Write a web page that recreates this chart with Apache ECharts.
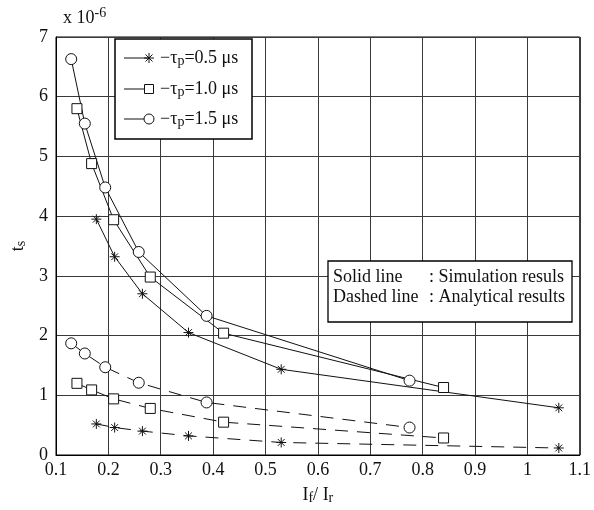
<!DOCTYPE html>
<html><head><meta charset="utf-8">
<script src="https://cdn.jsdelivr.net/npm/echarts@6/dist/echarts.min.js"></script>
<style>html,body{margin:0;padding:0;background:#fff}#c{width:594px;height:510px}</style>
</head><body><div id="c"></div>
<script>
// I_f / I_r values for each pulse width
const xStar   = [0.177, 0.212, 0.265, 0.353, 0.53, 1.06];
const xSquare = [0.14, 0.168, 0.21, 0.28, 0.42, 0.84];
const xCircle = [0.129, 0.155, 0.194, 0.258, 0.3875, 0.775];
// t_s (x 1e-6) simulation (solid)
const simStar   = [3.95, 3.32, 2.70, 2.05, 1.435, 0.79];
const simSquare = [5.80, 4.88, 3.94, 2.98, 2.04, 1.13];
const simCircle = [6.63, 5.55, 4.48, 3.40, 2.33, 1.245];
// t_s (x 1e-6) analytical (dashed)
const anaStar   = [0.52, 0.46, 0.40, 0.32, 0.21, 0.117];
const anaSquare = [1.20, 1.09, 0.94, 0.78, 0.55, 0.285];
const anaCircle = [1.87, 1.70, 1.47, 1.21, 0.88, 0.46];
const xTicks = [0.1, 0.2, 0.3, 0.4, 0.5, 0.6, 0.7, 0.8, 0.9, 1, 1.1];
const yTicks = [0, 1, 2, 3, 4, 5, 6, 7];
const legendLabels = ['0.5', '1.0', '1.5'];

const FF = '"Liberation Serif", "Times New Roman", serif';
const STAR = 'path://M5,0L5,10M0,5L10,5M1.6,1.6L8.4,8.4M1.6,8.4L8.4,1.6';

function mk(name, xs, ys, symbol, size, dashed) {
  return {
    name, type: 'line', data: xs.map((x, i) => [x, ys[i]]),
    symbol, symbolSize: size, showSymbol: true,
    lineStyle: { color: '#111', width: 1, type: dashed ? [13, 9] : 'solid' },
    itemStyle: { color: '#fff', borderColor: '#111', borderWidth: 1 },
    emphasis: { disabled: true }, z: 3
  };
}

const chart = echarts.init(document.getElementById('c'), null, { renderer: 'canvas' });

const legendGraphic = [];
const legY = [58, 89, 119];
legendGraphic.push({ type: 'rect', shape: { x: 115, y: 39, width: 137, height: 100 },
  style: { fill: '#fff', stroke: '#000', lineWidth: 1.5 }, z: 10 });
legY.forEach((y, i) => {
  legendGraphic.push({ type: 'line', shape: { x1: 124, y1: y, x2: 149, y2: y }, style: { stroke: '#111', lineWidth: 1 }, z: 11 });
  if (i === 0) {
    [[149, y - 5, 149, y + 5], [144, y, 154, y], [145.5, y - 3.5, 152.5, y + 3.5], [145.5, y + 3.5, 152.5, y - 3.5]].forEach(s =>
      legendGraphic.push({ type: 'line', shape: { x1: s[0], y1: s[1], x2: s[2], y2: s[3] }, style: { stroke: '#111', lineWidth: 1 }, z: 12 }));
  } else if (i === 1) {
    legendGraphic.push({ type: 'rect', shape: { x: 144.5, y: y - 4.5, width: 9, height: 9 }, style: { fill: '#fff', stroke: '#111', lineWidth: 1 }, z: 12 });
  } else {
    legendGraphic.push({ type: 'circle', shape: { cx: 149, cy: y, r: 5 }, style: { fill: '#fff', stroke: '#111', lineWidth: 1 }, z: 12 });
  }
  legendGraphic.push({ type: 'text', x: 160, y: y, z: 12,
    style: { text: '\u2212\u03c4{s|p}=' + legendLabels[i] + ' \u03bcs', fontFamily: FF, fontSize: 18, lineHeight: 20,
      fill: '#111', verticalAlign: 'middle',
      rich: { s: { fontFamily: FF, fontSize: 14, lineHeight: 8, verticalAlign: 'bottom' } } } });
});

const noteGraphic = [
  { type: 'rect', shape: { x: 328, y: 261, width: 244, height: 61 }, style: { fill: '#fff', stroke: '#000', lineWidth: 1.3 }, z: 10 },
  { type: 'text', x: 333, y: 277, z: 11, style: { text: 'Solid line', fontFamily: FF, fontSize: 18, fill: '#111', verticalAlign: 'middle' } },
  { type: 'text', x: 429, y: 277, z: 11, style: { text: ': Simulation resuls', fontFamily: FF, fontSize: 18, fill: '#111', verticalAlign: 'middle' } },
  { type: 'text', x: 333, y: 297, z: 11, style: { text: 'Dashed line', fontFamily: FF, fontSize: 18, fill: '#111', verticalAlign: 'middle' } },
  { type: 'text', x: 429, y: 297, z: 11, style: { text: ': Analytical results', fontFamily: FF, fontSize: 18, fill: '#111', verticalAlign: 'middle' } }
];

const expGraphic = { type: 'text', x: 63, y: 6, z: 11,
  style: { text: 'x 10{u|-6}', fontFamily: FF, fontSize: 18, lineHeight: 24, fill: '#111', verticalAlign: 'top',
    rich: { u: { fontFamily: FF, fontSize: 14, lineHeight: 14, verticalAlign: 'top' } } } };

chart.setOption({
  animation: false,
  backgroundColor: '#fff',
  grid: { left: 52, top: 37, right: 10, bottom: 55, show: true, borderColor: '#000', borderWidth: 1 },
  xAxis: {
    type: 'value', min: xTicks[0], max: xTicks[xTicks.length - 1], interval: 0.1,
    name: 'I{s|f}/ I{s|r}', nameLocation: 'middle', nameGap: 30,
    nameTextStyle: { fontFamily: FF, fontSize: 18, color: '#111', lineHeight: 20,
      rich: { s: { fontFamily: FF, fontSize: 14, lineHeight: 8, verticalAlign: 'bottom', color: '#111' } } },
    axisLine: { show: true, lineStyle: { color: '#000', width: 1 } },
    axisTick: { show: false },
    axisLabel: { fontFamily: FF, fontSize: 18, color: '#111', margin: 6,
      formatter: v => String(parseFloat(Number(v).toFixed(1))) },
    splitLine: { show: true, lineStyle: { color: '#3a3a3a', width: 1 } }
  },
  yAxis: {
    type: 'value', min: yTicks[0], max: yTicks[yTicks.length - 1], interval: 1,
    name: 't{s|s}', nameLocation: 'middle', nameGap: 28, nameRotate: 90,
    nameTextStyle: { fontFamily: FF, fontSize: 18, color: '#111', lineHeight: 20,
      rich: { s: { fontFamily: FF, fontSize: 14, lineHeight: 8, verticalAlign: 'bottom', color: '#111' } } },
    axisLine: { show: true, lineStyle: { color: '#000', width: 1 } },
    axisTick: { show: false },
    axisLabel: { fontFamily: FF, fontSize: 18, color: '#111', margin: 8 },
    splitLine: { show: true, lineStyle: { color: '#3a3a3a', width: 1 } }
  },
  series: [
    mk('sim0.5', xStar, simStar, STAR, 10, false),
    mk('sim1.0', xSquare, simSquare, 'rect', 10, false),
    mk('sim1.5', xCircle, simCircle, 'circle', 11, false),
    mk('ana0.5', xStar, anaStar, STAR, 10, true),
    mk('ana1.0', xSquare, anaSquare, 'rect', 10, true),
    mk('ana1.5', xCircle, anaCircle, 'circle', 11, true)
  ],
  graphic: [].concat(legendGraphic, noteGraphic, [expGraphic])
});
</script>
</body></html>
